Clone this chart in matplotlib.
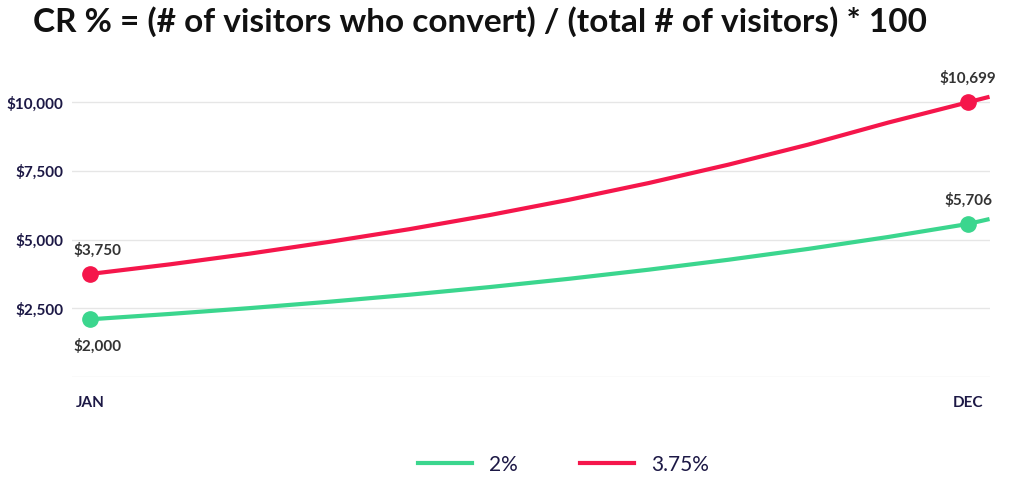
import numpy as np
from matplotlib import pyplot as plt
from matplotlib.lines import Line2D

plt.rcParams['font.family'] = ['Lato', 'DejaVu Sans']

months = np.arange(12)
green_vals = [2100, 2295, 2507, 2740, 2994, 3271, 3574, 3906, 4268, 4663, 5096, 5570]
red_vals = [3750, 4100, 4490, 4920, 5380, 5890, 6450, 7060, 7730, 8460, 9260, 10000]
# curves run a little past the last point
green_tail = 5750
red_tail = 10200
tail_x = 11.27

green_labels = ['$2,000', '$5,706']
red_labels = ['$3,750', '$10,699']
yticks = [2500, 5000, 7500, 10000]
ytick_labels = ['$2,500', '$5,000', '$7,500', '$10,000']

GREEN = '#3bd68e'
RED = '#f5164b'
NAVY = '#1c1845'

fig = plt.figure(figsize=(10.24, 4.8), dpi=100)
ax = fig.add_axes([0.0703, 0.2146, 0.8965, 0.6396])

for vals, tail, c in [(green_vals, green_tail, GREEN), (red_vals, red_tail, RED)]:
    xs = list(months) + [tail_x]
    ys = list(vals) + [tail]
    ax.plot(xs, ys, color=c, lw=3, solid_capstyle='butt', zorder=3)
    ax.plot([0, 11], [vals[0], vals[-1]], 'o', color=c, ms=11, zorder=4)

ax.annotate(red_labels[0], (0, red_vals[0]), xytext=(-12, 12), textcoords='offset points',
            fontsize=11, fontweight='bold', color='#333333', va='bottom')
ax.annotate(green_labels[0], (0, green_vals[0]), xytext=(-12, -14), textcoords='offset points',
            fontsize=11, fontweight='bold', color='#333333', va='top')
ax.annotate(red_labels[1], (11, red_vals[-1]), xytext=(0, 12), textcoords='offset points',
            fontsize=11, fontweight='bold', color='#333333', va='bottom', ha='center')
ax.annotate(green_labels[1], (11, green_vals[-1]), xytext=(0, 12), textcoords='offset points',
            fontsize=11, fontweight='bold', color='#333333', va='bottom', ha='center')

ax.set_xlim(-0.226, 11.276)
ax.set_ylim(0, 11175)
ax.set_yticks(yticks)
ax.set_yticklabels(ytick_labels)
ax.set_xticks([0, 11])
ax.set_xticklabels(['JAN', 'DEC'])
ax.grid(axis='y', color='#e6e6e6', lw=1)
ax.axhline(0, color='#e6e6e6', lw=1)
ax.tick_params(length=0, labelsize=11, colors=NAVY, pad=14)
ax.tick_params(axis='y', pad=6)
for lab in ax.get_xticklabels() + ax.get_yticklabels():
    lab.set_fontweight('bold')
for s in ax.spines.values():
    s.set_visible(False)

fig.text(0.032, 0.955, 'CR % = (# of visitors who convert) / (total # of visitors) * 100',
         fontsize=24, fontweight='bold', color='#111111', va='center')

handles = [Line2D([], [], color=GREEN, lw=3), Line2D([], [], color=RED, lw=3)]
fig.legend(handles, ['2%', '3.75%'], loc='center', bbox_to_anchor=(0.55, 0.032), ncol=2,
           frameon=False, fontsize=15, handlelength=2.6, columnspacing=3,
           labelcolor=NAVY)

fig.savefig('out.png', dpi=100)
